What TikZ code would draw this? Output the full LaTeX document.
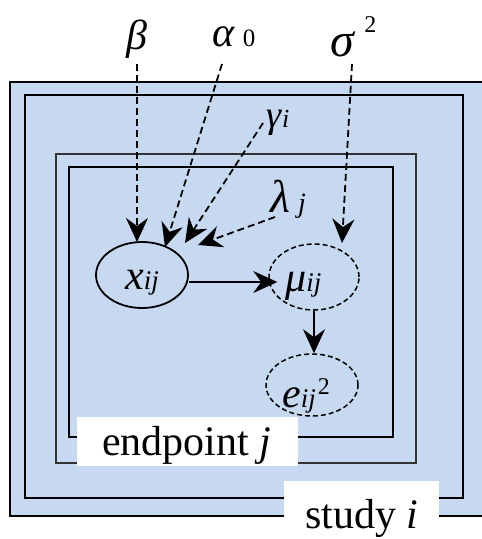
\documentclass[tikz,border=0pt]{standalone}
\usepackage{fontspec}
\setmainfont{Liberation Serif}
\usetikzlibrary{shapes.geometric,arrows.meta,calc}
\definecolor{platebg}{HTML}{C6D9F0}
\begin{document}
\begin{tikzpicture}[x=1bp,y=-1bp,
  plate/.style={draw=black, line width=2bp},
  lbl/.style={inner sep=0pt, anchor=base west, font=\fontsize{42bp}{46bp}\selectfont},
  var/.style={ellipse, draw=black, line width=1.8bp, inner sep=0pt},
  dashedvar/.style={var, line width=1.5bp, dash pattern=on 5bp off 3bp},
  dep/.style={line width=1.8bp, dash pattern=on 7bp off 4bp, -{Stealth[length=24bp,width=22bp,inset=8bp]}},
  arr/.style={line width=1.6bp, -{Stealth[length=24bp,width=22bp,inset=8bp]}},
  whitebox/.style={fill=white, draw=none}]
\useasboundingbox (0,0) rectangle (482,539);
\fill[white] (0,0) rectangle (482,539);
% plates
\draw[plate, fill=platebg] (10,82) rectangle (500,516);
\draw[plate] (25,95) rectangle (463,498);
\draw[plate, draw=black!80] (56,154) rectangle (416,463);
\draw[plate] (69,167) rectangle (393,437);
\fill[whitebox] (77,417) rectangle (298,466);
\fill[whitebox] (284,481) rectangle (439,545);
\node[lbl] (endp) at (102,455) {endpoint \textit{j}};
\node[lbl] (study) at (305,528) {study \textit{i}};
% variable nodes
\node[var, minimum width=92bp, minimum height=66bp] (x) at (142,275) {};
\node[dashedvar, minimum width=90bp, minimum height=66bp] (mu) at (314,277) {};
\node[dashedvar, minimum width=92bp, minimum height=62bp] (e) at (312,385) {};
% labels inside nodes
\node[lbl] (xl) at (125,289) {\textit{x}\fontsize{27bp}{28bp}\selectfont\textit{ij}};
\node[lbl] (mul) at (285,291) {\textit{μ}\fontsize{27bp}{28bp}\selectfont\textit{ij}};
\node[lbl] (el) at (282,407) {\textit{e}\fontsize{27bp}{28bp}\selectfont\textit{ij}\kern2bp\raisebox{13bp}{\fontsize{24bp}{26bp}\selectfont 2}};
% parameter labels
\node[lbl, anchor=base] (beta) at (137,50) {\textit{β}};
\node[lbl] (alpha) at (212,47) {\textit{α}\kern8bp{\fontsize{25bp}{26bp}\selectfont 0}};
\node[lbl, font=\fontsize{48bp}{50bp}\selectfont] (sigma) at (330,57) {\textit{σ}\kern9bp\raisebox{24bp}{\fontsize{24bp}{26bp}\selectfont 2}};
\node[lbl, font=\fontsize{38bp}{40bp}\selectfont] (gamma) at (266,128) {\textit{γ}{\fontsize{26bp}{28bp}\selectfont\textit{i}}};
\node[lbl, font=\fontsize{46bp}{48bp}\selectfont] (lambda) at (270,213) {\textit{λ}\kern8bp{\fontsize{28bp}{30bp}\selectfont\textit{j}}};
% endpoints of dependency arrows
\coordinate (bS) at (137,64);
\coordinate (bE) at (137,242);
\coordinate (aS) at (222,64);
\coordinate (aE) at (165,247);
\coordinate (gS) at (263,123);
\coordinate (gE) at (185,243);
\coordinate (lS) at (275,217);
\coordinate (lE) at (198,245);
\coordinate (sS) at (352,64);
\coordinate (sE) at (342,243);
\draw[dep] (bS) -- (bE);
\draw[dep] (aS) -- (aE);
\draw[dep] (gS) -- (gE);
\draw[dep] (lS) -- (lE);
\draw[dep] (sS) -- (sE);
% solid arrows
\draw[arr] ($(x.east)+(0,7)$) -- ($(mu.west)+(9,5)$);
\draw[arr] (mu.south) -- (mu.south |- e.north);
\end{tikzpicture}
\end{document}
